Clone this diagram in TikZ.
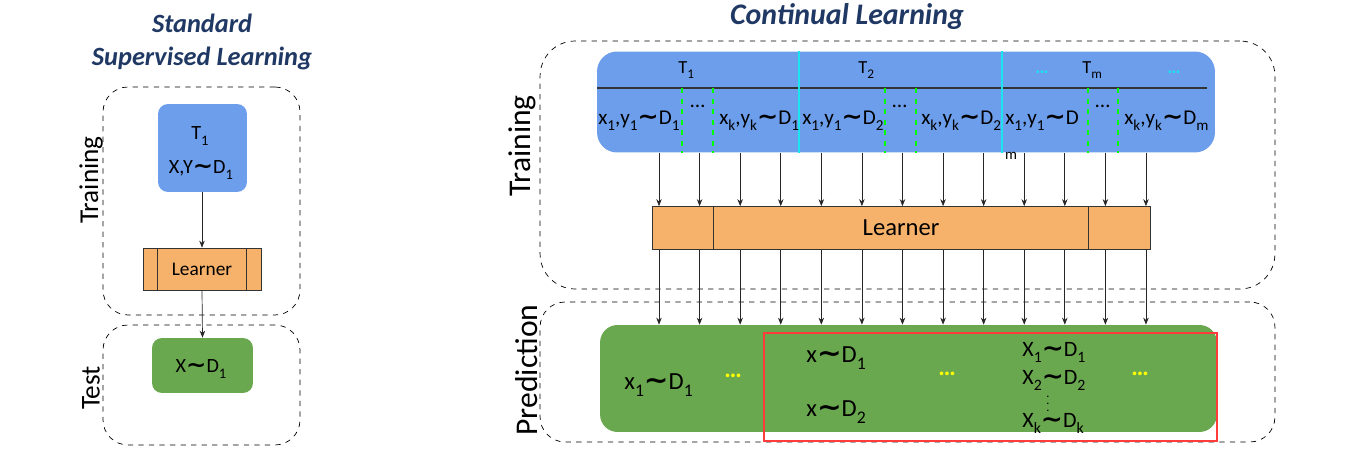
\documentclass[tikz,border=0pt]{standalone}
\usepackage{amsmath,amssymb}
\usepackage{fontspec}
\setmainfont{Carlito}
\newfontfamily\tildefont{DejaVu Sans}
\usepackage{tikz}
\usetikzlibrary{arrows.meta, positioning, calc}
\usepackage{xcolor}
\definecolor{taskblue}{HTML}{6D9EEB}
\definecolor{learnorange}{HTML}{F6B26B}
\definecolor{predgreen}{HTML}{6AA84F}
\definecolor{titleblue}{HTML}{1F3864}
\definecolor{sepcyan}{HTML}{1CE3F0}
\definecolor{dotyellow}{HTML}{FFFF00}
\definecolor{boxred}{HTML}{FF3B3B}
\newcommand{\lo}[1]{\raisebox{-0.55ex}{\scalebox{0.72}{#1}}}
\newcommand{\dist}{{\tildefont\bfseries\scalebox{1.2}[1.1]{∼}}}

\begin{document}
\begin{tikzpicture}[
    x=0.02cm, y=-0.02cm,
    every node/.style={font=\fontsize{11.5}{13}\selectfont, inner sep=0pt},
    % Box styles
    groupbox/.style={
      rectangle, draw, dashed, rounded corners=0.5cm
    },
    taskbox/.style={
      rectangle, rounded corners=0.2cm, fill=taskblue
    },
    learnbox/.style={
      rectangle, draw=black!80, fill=learnorange
    },
    predbox/.style={
      rectangle, rounded corners=0.2cm, fill=predgreen
    },
    titletext/.style={
      font=\fontsize{15}{18.5}\selectfont\bfseries\itshape,
      text=titleblue, align=center
    },
    sidelabel/.style={rotate=90, font=\fontsize{15.5}{18}\selectfont},
    rowtxt/.style={anchor=base west, font=\fontsize{12}{14}\selectfont},
    headtxt/.style={anchor=base west, font=\fontsize{10.5}{12}\selectfont},
    predtxt/.style={anchor=base west, font=\fontsize{14}{16}\selectfont},
    listtxt/.style={anchor=base west, font=\fontsize{12.5}{14}\selectfont},
    ydots/.style={text=dotyellow, font=\fontsize{14}{16}\selectfont\bfseries},
    % Line styles
    arr/.style={-{Stealth[length=1.4mm, width=1.1mm]}, black!85},
    sepline/.style={sepcyan, line width=0.8pt},
    taskdash/.style={green, dashed, line width=0.8pt},
    hdrline/.style={black!80, line width=1pt}
  ]
  \useasboundingbox (0,0) rectangle (1369,465);

  % ============ Standard Supervised Learning (left) ============
  \node[titletext] (stdtitle) at (202,42) {Standard\\Supervised Learning};
  \node[groupbox, minimum width=3.94cm, minimum height=4.56cm] (stdtrain) at (201.5,201) {};
  \node[groupbox, minimum width=3.94cm, minimum height=2.4cm] (stdtest) at (201.5,385) {};
  \node[sidelabel] (stdtrainlbl) at (91,180) {Training};
  \node[sidelabel] (stdtestlbl) at (91,388) {Test};

  \node[taskbox, minimum width=1.78cm, minimum height=1.76cm] (task1) at (202.5,148) {};
  \node[anchor=base] (task1name) at (200,140) {T\lo{1}};
  \node[anchor=base] (task1data) at (201,174) {X,Y\dist D\lo{1}};

  \node[learnbox, minimum width=2.36cm, minimum height=0.84cm,
        font=\fontsize{11}{13}\selectfont] (stdlearner) at (202,269) {Learner};
  \draw[black!80] ([xshift=0.3cm]stdlearner.north west) -- ([xshift=0.3cm]stdlearner.south west);
  \draw[black!80] ([xshift=-0.3cm]stdlearner.north east) -- ([xshift=-0.3cm]stdlearner.south east);

  \node[predbox, minimum width=2.02cm, minimum height=1.1cm] (stdtestbox) at (202.5,365.5) {};
  \node[anchor=base] (stdtestdata) at (201,373) {X\dist D\lo{1}};

  \draw[arr] (task1.south -| stdlearner) -- (stdlearner.north);
  \draw[arr] (stdlearner.south) -- (stdtestbox.north);

  % ============ Continual Learning (right) ============
  \node[titletext, font=\fontsize{17}{19}\selectfont\bfseries\itshape] (cltitle) at (847,17) {Continual Learning};
  \node[groupbox, rounded corners=0.7cm, minimum width=14.7cm, minimum height=4.96cm] (cltrain) at (907.5,165) {};
  \node[groupbox, rounded corners=0.5cm, minimum width=14.7cm, minimum height=2.8cm] (clpred) at (907.5,372) {};
  \node[sidelabel, font=\fontsize{18}{20}\selectfont] (cltrainlbl) at (522,146) {Training};
  \node[sidelabel, font=\fontsize{18}{20}\selectfont] (clpredlbl) at (527,370) {Prediction};

  % task stream
  \node[taskbox, rounded corners=0.4cm, minimum width=12.36cm, minimum height=2.02cm] (stream) at (906,102) {};
  \coordinate (hdrL) at (597,88);
  \coordinate (hdrR) at (1207,88);
  \draw[hdrline] (hdrL) -- (hdrR);
  \foreach \sx [count=\k] in {799,1002} {
    \coordinate (sep\k) at (\sx,0);
    \draw[sepline] (sep\k |- stream.north) -- (sep\k |- stream.south);
  }
  \foreach \gx [count=\k] in {682,713,885,916,1088,1118} {
    \coordinate (gd\k) at (\gx,0);
    \draw[taskdash] (gd\k |- hdrL) -- (gd\k |- stream.south);
  }

  \node[headtxt] (t1) at (678,74) {T\lo{1}};
  \node[headtxt] (t2) at (858,74) {T\lo{2}};
  \node[headtxt, text=sepcyan] (tdots1) at (1035,74) {\textbf{\dots}};
  \node[headtxt] (tm) at (1082,74) {T\lo{m}};
  \node[headtxt, text=sepcyan] (tdots2) at (1167,74) {\textbf{\dots}};

  \node[rowtxt] (s1) at (598,125) {x\lo{1},y\lo{1}\dist D\lo{1}};
  \node[rowtxt] (s1dots) at (690,108) {\dots};
  \node[rowtxt] (s2) at (719,125) {x\lo{k},y\lo{k}\dist D\lo{1}};
  \node[rowtxt] (s3) at (802,125) {x\lo{1},y\lo{1}\dist D\lo{2}};
  \node[rowtxt] (s3dots) at (892,108) {\dots};
  \node[rowtxt] (s4) at (921,125) {x\lo{k},y\lo{k}\dist D\lo{2}};
  \node[rowtxt] (s5) at (1005,125) {x\lo{1},y\lo{1}\dist D};
  \node[rowtxt] (s5dots) at (1095,108) {\dots};
  \node[rowtxt] (s6) at (1124,125) {x\lo{k},y\lo{k}\dist D\lo{m}};
  \node[anchor=base, font=\fontsize{8.5}{10}\selectfont] (s5sub) at (1011,160) {m};

  % learner
  \node[learnbox, minimum width=9.96cm, minimum height=0.86cm,
        font=\fontsize{14}{16}\selectfont] (learner) at (901,228) {Learner};
  \draw[black!80] ([xshift=1.24cm]learner.north west) -- ([xshift=1.24cm]learner.south west);
  \draw[black!80] ([xshift=-1.24cm]learner.north east) -- ([xshift=-1.24cm]learner.south east);

  % prediction
  \node[predbox, rounded corners=0.35cm, minimum width=12.34cm, minimum height=2.14cm] (pred) at (908.5,378.5) {};
  \node[predtxt] (p1) at (624,390) {x\lo{1}\dist D\lo{1}};
  \node[ydots] (pdots1) at (733,376) {\dots};
  \node[predtxt] (p2) at (806,363) {x\dist D\lo{1}};
  \node[predtxt] (p3) at (806,417) {x\dist D\lo{2}};
  \node[ydots] (pdots2) at (947,374) {\dots};
  \node[listtxt] (p4) at (1022,357) {X\lo{1}\dist D\lo{1}};
  \node[listtxt] (p5) at (1022,385) {X\lo{2}\dist D\lo{2}};
  \node[font=\fontsize{7}{7}\selectfont] (p5dots) at (1048,399) {$\vdots$};
  \node[listtxt] (p6) at (1022,428) {X\lo{k}\dist D\lo{k}};
  \node[ydots] (pdots3) at (1140,374) {\dots};
  \node[draw=boxred, line width=1.6pt, minimum width=9.06cm, minimum height=2.16cm] (focus) at (990.5,387) {};

  % arrows through the learner
  \foreach \i in {0,...,12} {
    \pgfmathsetmacro{\cx}{659+40.58*\i}
    \coordinate (col\i) at (\cx,0);
    \draw[arr] (col\i |- stream.south) -- (col\i |- learner.north);
    \draw[arr] (col\i |- learner.south) -- (col\i |- pred.north);
  }
\end{tikzpicture}
\end{document}
